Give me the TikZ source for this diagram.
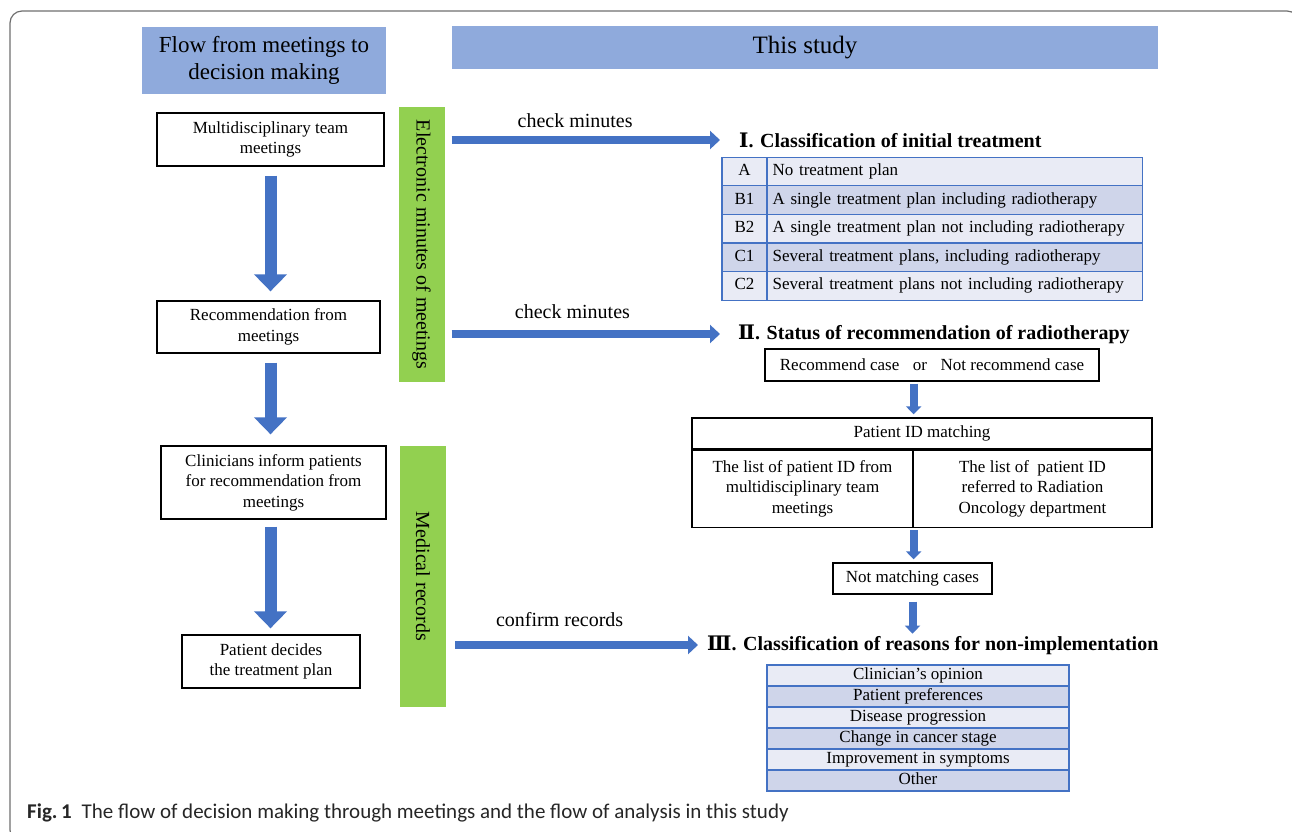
\documentclass[tikz,border=0pt]{standalone}
\usepackage{fontspec}
\setmainfont{Liberation Serif}
\newfontfamily\capfont{Carlito}
\newfontfamily\numfont{DejaVu Serif}
\usepackage{tikz}
\usetikzlibrary{arrows.meta,calc}
\definecolor{hdrblue}{HTML}{8FAADC}
\definecolor{bargreen}{HTML}{92D050}
\definecolor{arrblue}{HTML}{4472C4}
\definecolor{rowlight}{HTML}{E9EBF5}
\definecolor{rowdark}{HTML}{CFD5EA}
\definecolor{framegray}{HTML}{6E6E6E}
\newcommand{\txtfont}{\rmfamily\fontsize{17}{20.5}\selectfont}
\newcommand{\lblfont}{\rmfamily\fontsize{20}{24}\selectfont}

\tikzset{
	box/.style={draw=black, line width=1.3pt, fill=white, align=center, font=\txtfont, inner sep=0pt},
	hdr/.style={fill=hdrblue, align=center, inner sep=0pt},
	bar/.style={fill=bargreen, inner sep=0pt, minimum width=46pt, font=\lblfont},
	cell/.style={draw=arrblue, line width=1.2pt, font=\txtfont, inner sep=0pt, text height=12pt, text depth=4pt},
	bigarrow/.style={draw=arrblue, line width=12pt, -{Triangle[length=17pt,width=32pt]}},
	flatarrow/.style={draw=arrblue, line width=8pt, -{Triangle[length=10pt,width=18pt]}},
	smallarrow/.style={draw=arrblue, line width=8pt, -{Triangle[length=8pt,width=15pt]}},
	ttl/.style={font=\lblfont\bfseries, inner sep=0pt, anchor=west},
	lbl/.style={font=\lblfont, inner sep=0pt}
}

\begin{document}
\begin{tikzpicture}[x=1pt,y=-1pt]
	\useasboundingbox (0,0) rectangle (1292,831);
	\draw[framegray, line width=1.2pt, rounded corners=12pt] (10,11) rectangle (1299,842);
	% headers
	\node[hdr, minimum width=244pt, minimum height=67pt, font=\fontsize{23}{27}\selectfont] (hflow) at (264,60.5) {Flow from meetings to\\decision making};
	\node[hdr, minimum width=706pt, minimum height=43pt, font=\fontsize{25}{30}\selectfont] (hstudy) at (805,47.5) {This study};
	% flow from meetings
	\node[box, minimum width=227pt, minimum height=53pt] (mdt) at (270.5,139.5) {Multidisciplinary team\\meetings};
	\node[box, minimum width=223pt, minimum height=52pt] (rec) at (268.5,327) {Recommendation from\\meetings};
	\node[box, minimum width=225pt, minimum height=73pt] (inform) at (273.5,482.5) {Clinicians inform patients\\for recommendation from\\meetings};
	\node[box, minimum width=178pt, minimum height=53pt] (decide) at (271,661.5) {Patient decides\\the treatment plan};
	\draw[bigarrow, shorten <=9pt, shorten >=9pt] (mdt.south) -- (mdt.south |- rec.north);
	\draw[bigarrow, shorten <=9pt, shorten >=11pt] (rec.south -| mdt) -- (mdt |- inform.north);
	\draw[bigarrow, shorten <=7pt, shorten >=6pt] (inform.south -| mdt) -- (mdt |- decide.north);
	% sources
	\node[bar, minimum height=275pt] (emin) at (421.5,244.5) {\rotatebox{-90}{Electronic minutes of meetings}};
	\node[bar, minimum height=261pt] (mrec) at (423,576.5) {\rotatebox{-90}{Medical records}};
	% I
	\node[ttl] (t1) at (739,140) {{\numfont Ⅰ}. Classification of initial treatment};
	\foreach \r/\code/\txt/\shade in {0/A/No treatment plan/rowlight,1/B1/A single treatment plan including radiotherapy/rowdark,2/B2/A single treatment plan not including radiotherapy/rowlight,3/C1/{Several treatment plans, including radiotherapy}/rowdark,4/C2/Several treatment plans not including radiotherapy/rowlight}{
		\node[cell, fill=\shade, minimum width=45pt, minimum height=28.6pt] (code\r) at (744.5,171.5+28.6*\r) {\code};
		\node[cell, fill=\shade, minimum width=375pt, minimum height=28.6pt, anchor=west, inner xsep=5pt, text width=365pt, align=left] (plan\r) at (767,171.5+28.6*\r) {\txt};
	}
	% II
	\node[ttl] (t2) at (738,334) {{\numfont Ⅱ}. Status of recommendation of radiotherapy};
	\node[box, minimum width=334pt, minimum height=32pt] (reccase) at (932,365) {Recommend case\hspace{0.8em}or\hspace{0.8em}Not recommend case};
	\node[box, minimum width=460pt, minimum height=31pt] (pid) at (922,433.5) {Patient ID matching};
	\node[box, minimum width=221pt, minimum height=77pt, anchor=north west] (pidl) at (pid.south west) {The list of patient ID from\\multidisciplinary team\\meetings};
	\node[box, minimum width=239pt, minimum height=77pt, anchor=north east] (pidr) at (pid.south east) {The list of \ patient ID\\referred to Radiation\\Oncology department};
	\node[box, minimum width=159pt, minimum height=31pt] (nomatch) at (912.5,578.5) {Not matching cases};
	\draw[smallarrow, shorten <=2pt, shorten >=3pt] (pidl.east |- reccase.south) -- (pidl.east |- pid.north);
	\draw[smallarrow, shorten <=2pt, shorten >=3pt] (pidl.south east) -- (pidl.east |- nomatch.north);
	% III
	\node[ttl] (t3) at (707,645) {{\numfont Ⅲ}. Classification of reasons for non-implementation};
	\draw[smallarrow, shorten <=7pt] (nomatch.south) -- ([yshift=-39pt]nomatch.south);
	\foreach \r/\txt/\shade in {0/Clinician's opinion/rowlight,1/Patient preferences/rowdark,2/Disease progression/rowlight,3/Change in cancer stage/rowdark,4/Improvement in symptoms/rowlight,5/Other/rowdark}{
		\node[cell, fill=\shade, minimum width=302pt, minimum height=21pt] (why\r) at (918,675.5+21*\r) {\txt};
	}
	% links to the study
	\draw[flatarrow] ($(emin.east |- t1.west)+(7,0)$) -- ($(t1.west)+(-19,0)$) node[lbl, pos=0.46, above=8pt] {check minutes};
	\draw[flatarrow] ($(emin.east |- t2.west)+(7,0)$) -- ($(t2.west)+(-18,0)$) node[lbl, pos=0.45, above=11pt] {check minutes};
	\draw[flatarrow] ($(mrec.east |- t3.west)+(9,0)$) -- ($(t3.west)+(-9,0)$) node[lbl, pos=0.43, above=14pt] {confirm records};
	% caption
	\node[anchor=base west, inner sep=0pt, font=\capfont\fontsize{21}{25}\selectfont, text=black!85] (cap) at (27,818) {\textbf{Fig.\,1}\hspace{10pt}The flow of decision making through meetings and the flow of analysis in this study};
\end{tikzpicture}
\end{document}
